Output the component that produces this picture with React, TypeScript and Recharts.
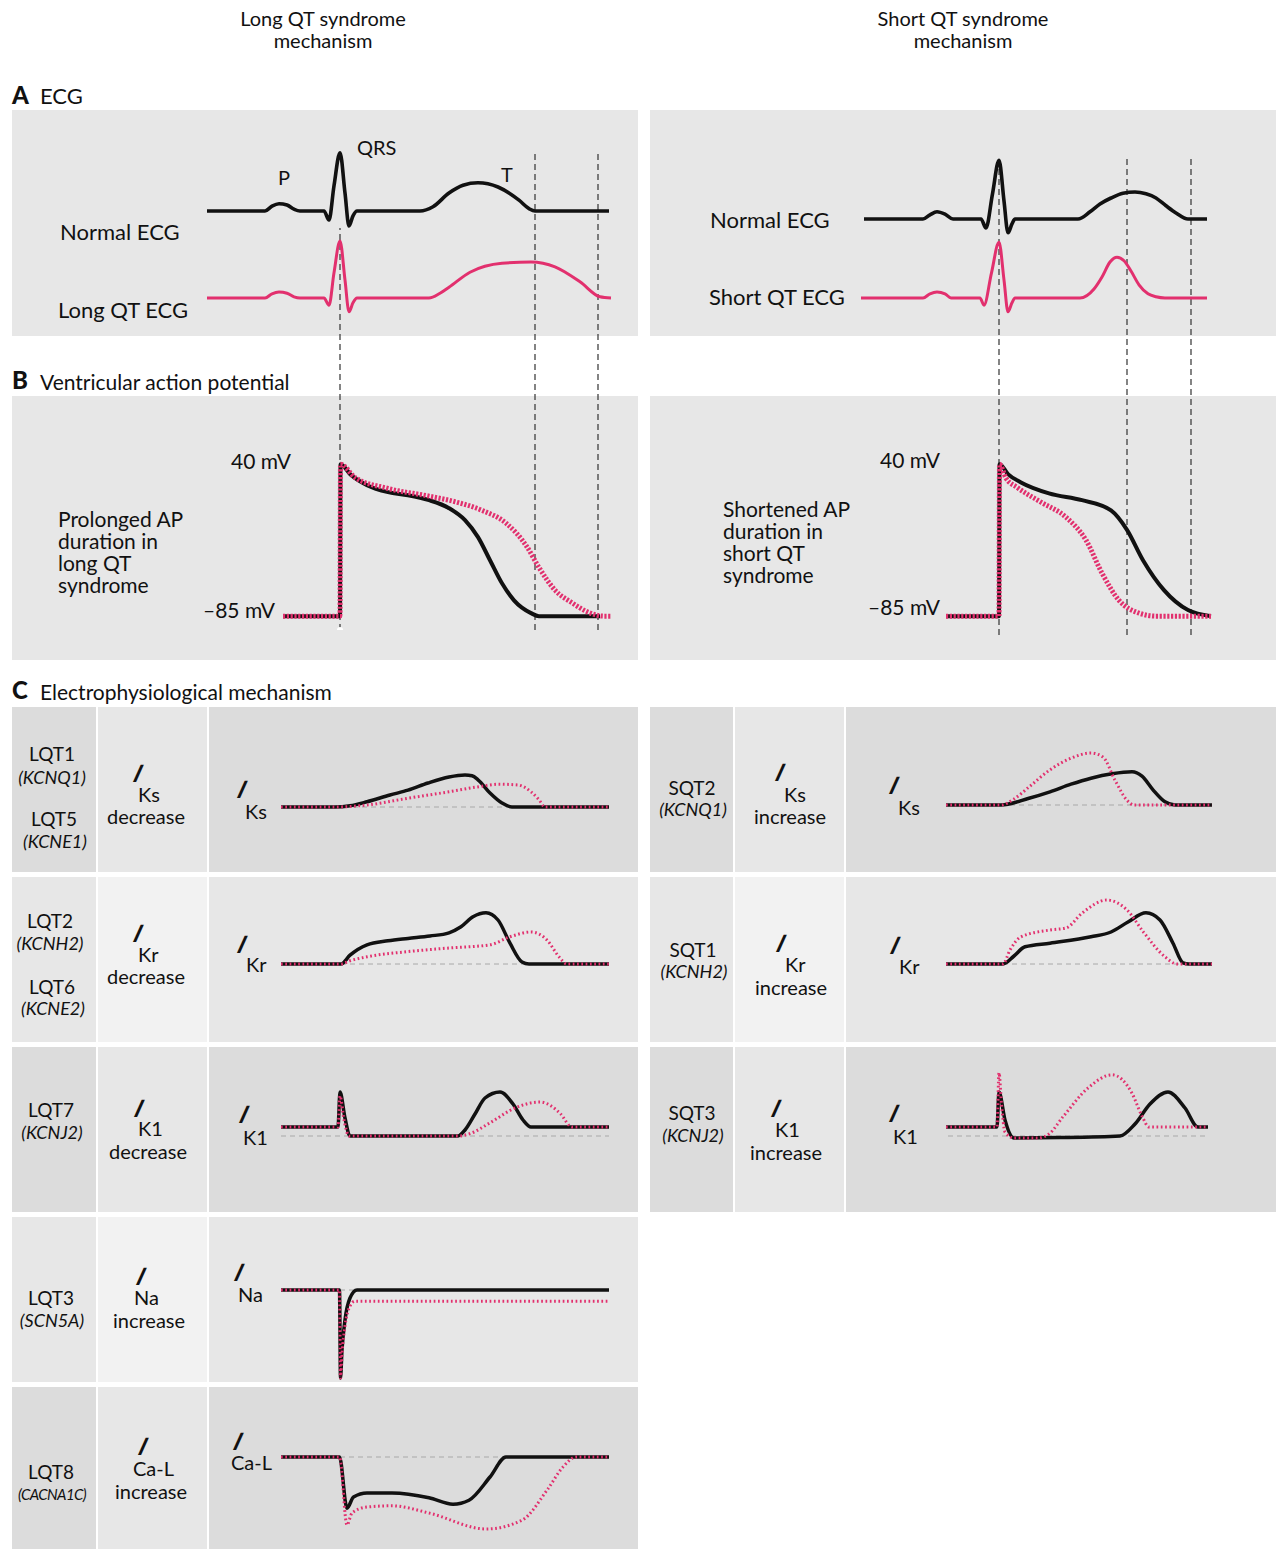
import { LineChart, Line, XAxis, YAxis, ReferenceLine } from 'recharts'

const PINK = '#e2306e'
const FONT = 'Lato, "Open Sans", sans-serif'

type Pt = { t: number; v: number }
const pts = (a: number[][]): Pt[] => a.map(([t, v]) => ({ t, v }))

// time in ms from the QRS peak, voltage in mV / current in arbitrary units

// A: ECG
const ecgNormalL = pts([[-266, 0], [-150, 0], [-136, 0.08], [-122, 0.12], [-106, 0.1], [-92, 0.03], [-80, 0], [-32, 0], [-22, -0.15], [-12, 0.42], [0, 0.97], [10, 0.3], [18, -0.25], [26, -0.08], [34, 0], [160, 0], [186, 0.07], [218, 0.3], [246, 0.43], [276, 0.47], [316, 0.4], [358, 0.18], [378, 0.04], [390, 0], [538, 0]])
const ecgLongQT = pts([[-266, 0], [-150, 0], [-136, 0.07], [-122, 0.1], [-106, 0.08], [-92, 0.02], [-80, 0], [-32, 0], [-22, -0.12], [-12, 0.42], [0, 0.95], [10, 0.3], [18, -0.23], [26, -0.08], [34, 0], [178, 0], [200, 0.08], [218, 0.18], [260, 0.43], [324, 0.58], [382, 0.6], [430, 0.52], [480, 0.27], [520, 0.02], [542, 0]])
const ecgNormalR = pts([[-270, 0], [-152, 0], [-138, 0.07], [-124, 0.12], [-108, 0.08], [-92, 0], [-36, 0], [-26, -0.15], [-13, 0.42], [0, 0.98], [10, 0.3], [18, -0.23], [26, -0.08], [32, 0], [158, 0], [182, 0.12], [202, 0.25], [224, 0.35], [248, 0.43], [272, 0.45], [294, 0.42], [314, 0.35], [334, 0.22], [354, 0.1], [378, 0], [416, 0]])
const ecgShortQT = pts([[-276, 0], [-152, 0], [-138, 0.07], [-124, 0.1], [-108, 0.07], [-96, 0], [-38, 0], [-30, -0.12], [-15, 0.42], [0, 0.93], [10, 0.3], [18, -0.23], [26, -0.08], [32, 0], [162, 0], [190, 0.15], [206, 0.35], [222, 0.6], [236, 0.68], [250, 0.62], [264, 0.45], [280, 0.22], [298, 0.07], [314, 0.02], [332, 0], [416, 0]])

// B: action potentials
const apNormalL = pts([[-114, -85], [0, -85], [1, 40], [22, 31], [54, 22.7], [96, 17], [136, 14.5], [178, 10.4], [218, 3.8], [250, -6], [276, -20], [300, -39], [324, -58], [348, -72], [382, -82.5], [398, -85], [520, -85]])
const apLong = pts([[-114, -85], [0, -85], [1, 40], [30, 29], [96, 20], [178, 13.7], [234, 8.7], [284, 2], [332, -8.5], [374, -28], [398, -45], [430, -63.6], [464, -74], [496, -81.7], [528, -85], [544, -85]])
const apNormalR = pts([[-106, -85], [0, -85], [1, 40], [18, 31.8], [44, 25], [100, 16], [166, 10.4], [224, 2], [256, -14], [288, -39], [330, -63.6], [378, -80], [424, -85]])
const apShort = pts([[-106, -85], [0, -85], [1, 40], [14, 28.5], [36, 21], [84, 8.7], [134, -3.6], [174, -22.5], [206, -49.6], [240, -72], [280, -82.5], [314, -85], [424, -85]])

// C: currents, long QT side (black normal, pink mutant)
const iksL = pts([[-118, 0], [-10, 0], [20, 0.03], [54, 0.13], [100, 0.3], [136, 0.42], [176, 0.6], [218, 0.75], [250, 0.8], [264, 0.78], [276, 0.68], [300, 0.35], [324, 0.1], [344, 0], [538, 0]])
const iksLQT = pts([[-118, 0], [-10, 0], [54, 0.05], [136, 0.22], [218, 0.38], [284, 0.52], [316, 0.57], [356, 0.55], [382, 0.38], [398, 0.18], [410, 0], [538, 0]])
const ikrL = pts([[-118, 0], [2, 0], [20, 0.22], [54, 0.48], [96, 0.58], [136, 0.64], [180, 0.7], [218, 0.78], [242, 0.93], [266, 1.18], [292, 1.28], [316, 1.1], [340, 0.52], [364, 0.05], [378, 0], [538, 0]])
const ikrLQT = pts([[-118, 0], [2, 0], [20, 0.08], [54, 0.18], [136, 0.31], [218, 0.4], [300, 0.48], [340, 0.68], [382, 0.8], [414, 0.6], [438, 0.18], [454, 0], [538, 0]])
const ik1L = pts([[-118, 0.225], [-4, 0.225], [0, 1.1], [10, 0.45], [20, 0], [236, 0], [250, 0.15], [270, 0.55], [290, 0.95], [320, 1.1], [346, 0.8], [366, 0.4], [382, 0.225], [538, 0.225]])
const ik1LQT = pts([[-118, 0.225], [-4, 0.225], [0, 1.0], [8, 0.4], [18, 0], [236, 0], [260, 0.06], [300, 0.33], [350, 0.7], [400, 0.85], [440, 0.57], [464, 0.225], [538, 0.225]])
const inaL = pts([[-118, 0], [-1, 0], [1, -2.2], [4, -1.5], [10, -0.75], [20, -0.2], [34, 0], [538, 0]])
const inaLQT = pts([[-118, 0], [-1, 0], [1, -2.2], [4, -1.6], [10, -0.9], [20, -0.4], [30, -0.28], [538, -0.28]])
const icaL = pts([[-118, 0], [-1, 0], [14, -1.28], [27, -1.0], [54, -0.9], [104, -0.9], [178, -1.02], [226, -1.18], [258, -1.08], [300, -0.5], [332, 0], [538, 0]])
const icaLQT = pts([[-118, 0], [-1, 0], [14, -1.7], [24, -1.4], [54, -1.25], [104, -1.22], [178, -1.4], [292, -1.8], [364, -1.58], [414, -0.83], [446, -0.25], [472, 0], [538, 0]])

// C: currents, short QT side
const iksR = pts([[-106, 0], [4, 0], [60, 0.17], [102, 0.33], [144, 0.52], [184, 0.67], [226, 0.78], [266, 0.83], [286, 0.72], [308, 0.38], [332, 0.08], [352, 0], [426, 0]])
const iksSQT = pts([[-106, 0], [4, 0], [30, 0.15], [60, 0.45], [102, 0.88], [144, 1.17], [184, 1.3], [208, 1.2], [232, 0.62], [256, 0.12], [270, 0], [426, 0]])
const ikrR = pts([[-106, 0], [8, 0], [30, 0.2], [52, 0.43], [102, 0.52], [184, 0.68], [224, 0.8], [258, 1.05], [294, 1.28], [322, 1.1], [348, 0.52], [368, 0.03], [380, 0], [426, 0]])
const ikrSQT = pts([[-106, 0], [8, 0], [22, 0.35], [44, 0.68], [102, 0.85], [134, 0.9], [166, 1.27], [216, 1.6], [256, 1.35], [290, 0.78], [332, 0.18], [356, 0], [426, 0]])
const ik1R = pts([[-106, 0.225], [-4, 0.225], [0, 1.1], [12, 0.4], [30, -0.05], [122, -0.04], [242, 0], [272, 0.3], [302, 0.8], [338, 1.1], [372, 0.7], [398, 0.225], [418, 0.225]])
const ik1SQT = pts([[-106, 0.225], [-4, 0.225], [0, 1.58], [5, 0.8], [12, 0.1], [30, -0.05], [78, -0.05], [100, 0.05], [128, 0.48], [178, 1.2], [226, 1.53], [266, 1.07], [286, 0.5], [300, 0.225], [418, 0.225]])

// guide lines (QRS and end of QT) and time axes
const guidesL = [0, 390, 516]
const guidesR = [0, 256, 384]
const LX: [number, number] = [-280, 560]
const RX: [number, number] = [-288, 432]

interface Series { data: Pt[]; color: string; width: number; dash?: string }

function Trace({ left, top, width, height, xDomain, yDomain, series, base, guides }: {
  left: number; top: number; width: number; height: number
  xDomain: [number, number]; yDomain: [number, number]
  series: Series[]; base?: [number, number]; guides?: number[]
}) {
  return (
    <div style={{ position: 'absolute', left, top }}>
      <LineChart width={width} height={height} margin={{ top: 0, right: 0, bottom: 0, left: 0 }}>
        <XAxis type="number" dataKey="t" domain={xDomain} hide />
        <YAxis type="number" domain={yDomain} hide />
        {base && (
          <ReferenceLine segment={[{ x: base[0], y: 0 }, { x: base[1], y: 0 }]}
            stroke="#a8a8a8" strokeWidth={1} strokeDasharray="5 4" />
        )}
        {guides && (
          <Line data={guides.map((t) => ({ t, v: yDomain[0] }))} dataKey="v" stroke="none" dot={false}
            activeDot={false} isAnimationActive={false} />
        )}
        {guides && guides.map((g) => (
          <ReferenceLine key={g} x={g} stroke="#333" strokeWidth={1.2} strokeDasharray="6 4" />
        ))}
        {series.map((s, i) => (
          <Line key={i} data={s.data} dataKey="v" type="monotone" stroke={s.color} strokeWidth={s.width}
            strokeDasharray={s.dash} dot={false} activeDot={false} isAnimationActive={false} />
        ))}
      </LineChart>
    </div>
  )
}

function Txt({ x, y, s = 20, center, italic, bold, children, spacing }: {
  x: number; y: number; s?: number; center?: boolean; italic?: boolean; bold?: boolean
  children: React.ReactNode; spacing?: number
}) {
  return (
    <div style={{
      position: 'absolute', left: center ? x - 100 : x, top: y - s * 0.55, width: center ? 200 : undefined,
      textAlign: center ? 'center' : 'left', fontSize: s, lineHeight: `${s}px`, whiteSpace: 'nowrap',
      fontStyle: italic ? 'italic' : 'normal', fontWeight: bold ? 900 : 400, letterSpacing: spacing, color: '#111',
    }}>{children}</div>
  )
}

function Cur({ ix, iy, sx, sy, sub }: { ix: number; iy: number; sx: number; sy: number; sub: string }) {
  return (
    <>
      <div style={{
        position: 'absolute', left: ix - 6, top: iy - 12, fontSize: 24, lineHeight: '24px', fontWeight: 700,
        fontStyle: 'italic', transform: 'skewX(-18deg)', color: '#111',
      }}>I</div>
      <Txt x={sx} y={sy} s={20}>{sub}</Txt>
    </>
  )
}

const box = (left: number, top: number, width: number, height: number, bg: string) => (
  <div style={{ position: 'absolute', left, top, width, height, background: bg }} />
)

const DARK = '#dcdcdc'
const MID = '#e7e7e7'
const LIGHT = '#f2f2f2'
const rowTops = [707, 877, 1047, 1217, 1387]
const rowH = [165, 165, 165, 165, 162]

const ecg = (left: number, top: number, width: number, xd: [number, number], data: Pt[], color: string, w: number) => (
  <Trace left={left} top={top} width={width} height={102} xDomain={xd} yDomain={[-0.5, 1.2]}
    series={[{ data, color, width: w }]} />
)
const cur = (left: number, base: number, width: number, xd: [number, number], black: Pt[], pink: Pt[], b: [number, number]) => (
  <Trace left={left} top={base - 80} width={width} height={180} xDomain={xd} yDomain={[-2.5, 2]} base={b}
    series={[{ data: black, color: '#111', width: 3.5 }, { data: pink, color: PINK, width: 3, dash: '1.7 2.6' }]} />
)

export default function App() {
  return (
    <div style={{ position: 'absolute', left: 0, top: 0, width: 1282, height: 1549, background: '#fff', fontFamily: FONT, overflow: 'hidden' }}>
      {/* titles */}
      <Txt x={323} y={19} center>Long QT syndrome</Txt>
      <Txt x={323} y={41} center>mechanism</Txt>
      <Txt x={963} y={19} center>Short QT syndrome</Txt>
      <Txt x={963} y={41} center>mechanism</Txt>

      {/* A */}
      <Txt x={12} y={96} s={24} bold>A</Txt>
      <Txt x={40} y={97} s={22}>ECG</Txt>
      {box(12, 110, 626, 226, MID)}
      {box(650, 110, 626, 226, MID)}

      {/* B */}
      <Txt x={12} y={381} s={24} bold>B</Txt>
      <Txt x={40} y={383} s={21}>Ventricular action potential</Txt>
      {box(12, 396, 626, 264, MID)}
      {box(650, 396, 626, 264, MID)}

      {/* C */}
      <Txt x={12} y={691} s={24} bold>C</Txt>
      <Txt x={40} y={693} s={21}>Electrophysiological mechanism</Txt>
      {rowTops.map((t, i) => {
        const odd = i % 2 === 1
        const out = [
          box(12, t, 84, rowH[i], odd ? MID : DARK),
          box(98, t, 109, rowH[i], odd ? LIGHT : MID),
          box(209, t, 429, rowH[i], odd ? MID : DARK),
        ]
        if (i < 3) {
          out.push(box(650, t, 83, rowH[i], odd ? MID : DARK))
          out.push(box(735, t, 109, rowH[i], odd ? LIGHT : MID))
          out.push(box(846, t, 430, rowH[i], odd ? MID : DARK))
        }
        return <div key={t}>{out.map((b, j) => <div key={j}>{b}</div>)}</div>
      })}

      {/* guide lines */}
      <Trace left={200} top={153} width={420} height={477} xDomain={LX} yDomain={[0, 1]} series={[]} guides={guidesL.slice(1)} />
      <Trace left={200} top={228} width={420} height={402} xDomain={LX} yDomain={[0, 1]} series={[]} guides={guidesL.slice(0, 1)} />
      <Trace left={855} top={155} width={360} height={480} xDomain={RX} yDomain={[0, 1]} series={[]} guides={guidesR} />

      {/* ECG traces */}
      {ecg(200, 139, 420, LX, ecgNormalL, '#111', 3.6)}
      {ecg(200, 226, 420, LX, ecgLongQT, PINK, 3)}
      {ecg(855, 147, 360, RX, ecgNormalR, '#111', 3.6)}
      {ecg(855, 226, 360, RX, ecgShortQT, PINK, 3)}
      <Txt x={60} y={233} s={22}>Normal ECG</Txt>
      <Txt x={58} y={311} s={22}>Long QT ECG</Txt>
      <Txt x={278} y={178} s={20}>P</Txt>
      <Txt x={357} y={148} s={20}>QRS</Txt>
      <Txt x={501} y={175} s={20}>T</Txt>
      <Txt x={710} y={221} s={22}>Normal ECG</Txt>
      <Txt x={709} y={298} s={22}>Short QT ECG</Txt>

      {/* AP traces */}
      <Trace left={200} top={452} width={420} height={182.4} xDomain={LX} yDomain={[-100, 50]}
        series={[{ data: apNormalL, color: '#111', width: 4 }, { data: apLong, color: PINK, width: 5, dash: '2.2 1.6' }]} />
      <Trace left={855} top={452} width={360} height={182.4} xDomain={RX} yDomain={[-100, 50]}
        series={[{ data: apNormalR, color: '#111', width: 4 }, { data: apShort, color: PINK, width: 5, dash: '2.2 1.6' }]} />
      <Txt x={231} y={462} s={21}>40 mV</Txt>
      <Txt x={203} y={611} s={21}>–85 mV</Txt>
      <Txt x={58} y={520} s={21}>Prolonged AP</Txt>
      <Txt x={58} y={542} s={21}>duration in</Txt>
      <Txt x={58} y={564} s={21}>long QT</Txt>
      <Txt x={58} y={586} s={21}>syndrome</Txt>
      <Txt x={880} y={461} s={21}>40 mV</Txt>
      <Txt x={868} y={608} s={21}>–85 mV</Txt>
      <Txt x={723} y={510} s={21}>Shortened AP</Txt>
      <Txt x={723} y={532} s={21}>duration in</Txt>
      <Txt x={723} y={554} s={21}>short QT</Txt>
      <Txt x={723} y={576} s={21}>syndrome</Txt>

      {/* C traces */}
      {cur(200, 807, 420, LX, iksL, iksLQT, [-10, 538])}
      {cur(200, 964, 420, LX, ikrL, ikrLQT, [2, 538])}
      {cur(200, 1136, 420, LX, ik1L, ik1LQT, [-118, 538])}
      {cur(200, 1290, 420, LX, inaL, inaLQT, [0, 40])}
      {cur(200, 1457, 420, LX, icaL, icaLQT, [0, 538])}
      {cur(855, 805, 360, RX, iksR, iksSQT, [4, 426])}
      {cur(855, 964, 360, RX, ikrR, ikrSQT, [8, 426])}
      {cur(855, 1136, 360, RX, ik1R, ik1SQT, [-102, 418])}

      {/* C labels, long QT */}
      <Txt x={52} y={754} s={19} center>LQT1</Txt>
      <Txt x={52} y={778} s={18} center italic>(KCNQ1)</Txt>
      <Txt x={54} y={819} s={19} center>LQT5</Txt>
      <Txt x={55} y={842} s={18} center italic>(KCNE1)</Txt>
      <Cur ix={141} iy={773} sx={138} sy={795} sub="Ks" />
      <Txt x={146} y={817} s={20} center>decrease</Txt>
      <Cur ix={245} iy={789} sx={245} sy={812} sub="Ks" />

      <Txt x={50} y={921} s={19} center>LQT2</Txt>
      <Txt x={50} y={944} s={18} center italic>(KCNH2)</Txt>
      <Txt x={52} y={987} s={19} center>LQT6</Txt>
      <Txt x={53} y={1009} s={18} center italic>(KCNE2)</Txt>
      <Cur ix={141} iy={933} sx={138} sy={955} sub="Kr" />
      <Txt x={146} y={977} s={20} center>decrease</Txt>
      <Cur ix={245} iy={944} sx={246} sy={965} sub="Kr" />

      <Txt x={51} y={1110} s={19} center>LQT7</Txt>
      <Txt x={52} y={1133} s={18} center italic>(KCNJ2)</Txt>
      <Cur ix={142} iy={1108} sx={138} sy={1129} sub="K1" />
      <Txt x={148} y={1152} s={20} center>decrease</Txt>
      <Cur ix={247} iy={1114} sx={243} sy={1138} sub="K1" />

      <Txt x={51} y={1298} s={19} center>LQT3</Txt>
      <Txt x={52} y={1321} s={18} center italic>(SCN5A)</Txt>
      <Cur ix={144} iy={1276} sx={134} sy={1298} sub="Na" />
      <Txt x={149} y={1321} s={20} center>increase</Txt>
      <Cur ix={242} iy={1272} sx={238} sy={1295} sub="Na" />

      <Txt x={51} y={1472} s={19} center>LQT8</Txt>
      <Txt x={52} y={1495} s={15} center italic spacing={-0.6}>(CACNA1C)</Txt>
      <Cur ix={146} iy={1446} sx={133} sy={1469} sub="Ca-L" />
      <Txt x={151} y={1492} s={20} center>increase</Txt>
      <Cur ix={241} iy={1441} sx={231} sy={1463} sub="Ca-L" />

      {/* C labels, short QT */}
      <Txt x={692} y={788} s={19} center>SQT2</Txt>
      <Txt x={693} y={810} s={18} center italic>(KCNQ1)</Txt>
      <Cur ix={783} iy={772} sx={784} sy={795} sub="Ks" />
      <Txt x={790} y={817} s={20} center>increase</Txt>
      <Cur ix={897} iy={785} sx={898} sy={808} sub="Ks" />

      <Txt x={693} y={950} s={19} center>SQT1</Txt>
      <Txt x={694} y={972} s={18} center italic>(KCNH2)</Txt>
      <Cur ix={784} iy={943} sx={785} sy={965} sub="Kr" />
      <Txt x={791} y={988} s={20} center>increase</Txt>
      <Cur ix={898} iy={945} sx={899} sy={967} sub="Kr" />

      <Txt x={692} y={1113} s={19} center>SQT3</Txt>
      <Txt x={693} y={1136} s={18} center italic>(KCNJ2)</Txt>
      <Cur ix={779} iy={1108} sx={775} sy={1130} sub="K1" />
      <Txt x={786} y={1153} s={20} center>increase</Txt>
      <Cur ix={897} iy={1113} sx={893} sy={1137} sub="K1" />
    </div>
  )
}
